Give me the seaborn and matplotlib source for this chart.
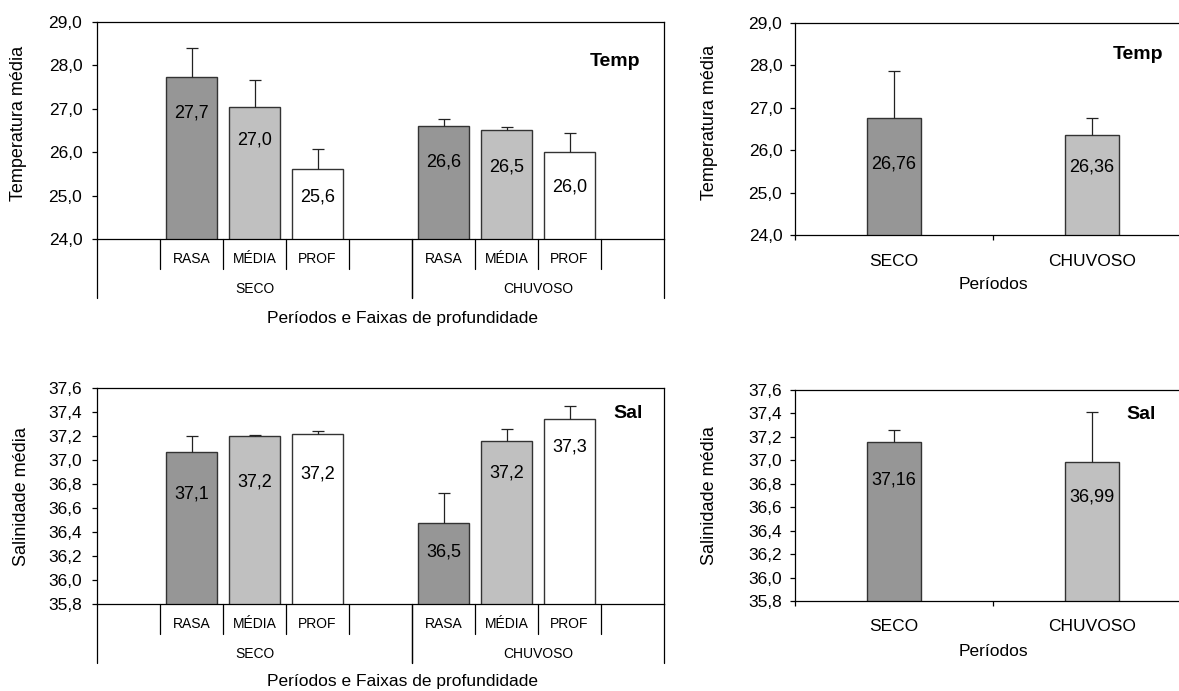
import numpy as np
import pandas as pd
import matplotlib
matplotlib.use("Agg")
import matplotlib.pyplot as plt
import matplotlib.transforms as mtransforms
from matplotlib.ticker import FixedLocator, FuncFormatter
import seaborn as sns

# ---------------- data ----------------
periods = ["SECO", "CHUVOSO"]
depths = ["RASA", "MÉDIA", "PROF"]

temp_depth_mean = [27.73, 27.03, 25.60, 26.60, 26.51, 26.00]
temp_depth_err = [0.67, 0.63, 0.48, 0.15, 0.07, 0.45]
sal_depth_mean = [37.07, 37.20, 37.22, 36.48, 37.16, 37.34]
sal_depth_err = [0.13, 0.01, 0.02, 0.25, 0.10, 0.11]

temp_period_mean = [26.76, 26.36]
temp_period_err = [1.10, 0.39]
sal_period_mean = [37.16, 36.99]
sal_period_err = [0.10, 0.42]

temp_ticks = [24.0, 25.0, 26.0, 27.0, 28.0, 29.0]
sal_ticks = [35.8, 36.0, 36.2, 36.4, 36.6, 36.8, 37.0, 37.2, 37.4, 37.6]

# ---------------- style ----------------
sns.set_style("ticks")
plt.rcParams.update({
    "font.family": ["Liberation Sans", "DejaVu Sans"],
    "axes.edgecolor": "black",
    "axes.linewidth": 0.9,
    "text.color": "black",
    "axes.labelcolor": "black",
    "xtick.color": "black",
    "ytick.color": "black",
})

DARK, LIGHT, WHITE = "#969696", "#c0c0c0", "#ffffff"
EDGE = "#333333"
depth_colors = {"RASA": DARK, "MÉDIA": LIGHT, "PROF": WHITE}
period_colors = {"SECO": DARK, "CHUVOSO": LIGHT}

W, H, DPI = 1179, 691, 100
PT = 72.0 / DPI  # points per pixel

fig = plt.figure(figsize=(W / DPI, H / DPI), dpi=DPI)


def add_axes_px(x0, y0, x1, y1):
    return fig.add_axes([x0 / W, 1 - y1 / H, (x1 - x0) / W, (y1 - y0) / H])


ax_tl = add_axes_px(97, 21.7, 664, 239)
ax_bl = add_axes_px(97, 388.3, 664, 604)
ax_tr = add_axes_px(795, 22.7, 1191, 235)
ax_br = add_axes_px(795, 390, 1191, 601)

# table for the depth panels, with empty slots padding each period group
df_depth = pd.DataFrame({
    "period": np.repeat(periods, len(depths)),
    "depth": depths * len(periods),
    "temp": temp_depth_mean,
    "temp_err": temp_depth_err,
    "sal": sal_depth_mean,
    "sal_err": sal_depth_err,
})
df_depth["slot"] = df_depth["period"] + "|" + df_depth["depth"]

group_slots = {
    "SECO": ["_a"] + depths + ["_b"],
    "CHUVOSO": depths + ["_c"],
}
slot_order = [f"{p}|{d}" for p in periods for d in group_slots[p]]

df_period = pd.DataFrame({
    "period": periods,
    "temp": temp_period_mean,
    "temp_err": temp_period_err,
    "sal": sal_period_mean,
    "sal_err": sal_period_err,
})


def comma(v, nd):
    return f"{v:.{nd}f}".replace(".", ",")


def style_y(ax, ticks, pad):
    ax.set_ylim(ticks[0], ticks[-1])
    ax.yaxis.set_major_locator(FixedLocator(ticks))
    ax.yaxis.set_major_formatter(FuncFormatter(lambda v, _: comma(v, 1)))
    ax.tick_params(axis="y", direction="out", length=3.6, width=0.9,
                   pad=pad, labelsize=12.5)
    for s in ax.spines.values():
        s.set_visible(True)
        s.set_color("black")
        s.set_linewidth(0.9)


def bars_and_marks(ax, errs, nd, drops):
    bars = sorted([p for p in ax.patches if p.get_height() > 0],
                  key=lambda p: p.get_x())
    xs = [p.get_x() + p.get_width() / 2 for p in bars]
    hs = [p.get_height() for p in bars]
    # upper-only error bars: hide the cap sitting on the bar top
    _, caps, _ = ax.errorbar(xs, hs, yerr=[np.zeros(len(errs)), errs],
                             fmt="none", ecolor="#222222", elinewidth=0.9,
                             capsize=4, capthick=0.9, zorder=4)
    if len(caps) == 2:
        caps[0].set_visible(False)
    for x, h, d in zip(xs, hs, drops):
        ax.annotate(comma(h, nd), xy=(x, h), xytext=(0, -d * PT),
                    textcoords="offset points", ha="center", va="center",
                    fontsize=13, zorder=5)


def depth_panel(ax, col, ticks, ylabel, tag, tag_xy, drops, ylab_x, ylab_y,
                xlab_y):
    sns.barplot(data=df_depth, x="slot", y=col, hue="depth", order=slot_order,
                hue_order=depths, palette=depth_colors, dodge=False,
                width=0.82, edgecolor=EDGE, linewidth=1.0, errorbar=None,
                saturation=1, legend=False, ax=ax)
    style_y(ax, ticks, 7)
    ax.set_xlim(-0.5, len(slot_order) - 0.5)

    present = set(df_depth["slot"])
    rows = df_depth.set_index("slot").loc[[s for s in slot_order if s in present]]
    bars_and_marks(ax, rows[col + "_err"].to_numpy(), 1, drops)

    # categorical positions from the axis itself
    pos = {t.get_text(): x for x, t in zip(ax.get_xticks(), ax.get_xticklabels())}
    ax.set_xticks([])
    ax.set_xlabel("")

    height_px = ax.get_position().height * H
    blend = mtransforms.blended_transform_factory(ax.transData, ax.transAxes)
    short, long_ = 30 / height_px, 59 / height_px

    for p in periods:
        keys = [f"{p}|{d}" for d in group_slots[p]]
        xs = [pos[k] for k in keys]
        # group edges (long) and internal slot edges (short)
        ax.plot([xs[0] - 0.5] * 2, [0, -long_], transform=blend,
                clip_on=False, color="black", lw=0.9)
        ax.plot([xs[-1] + 0.5] * 2, [0, -long_], transform=blend,
                clip_on=False, color="black", lw=0.9)
        for a, b in zip(xs[:-1], xs[1:]):
            ax.plot([(a + b) / 2] * 2, [0, -short], transform=blend,
                    clip_on=False, color="black", lw=0.9)
        for k, d in zip(keys, group_slots[p]):
            if d in depths:
                ax.annotate(d, xy=(pos[k], 0), xycoords=blend,
                            xytext=(0, -20 * PT), textcoords="offset points",
                            ha="center", va="center", fontsize=10)
        ax.annotate(p, xy=((xs[0] + xs[-1]) / 2, 0), xycoords=blend,
                    xytext=(0, -50 * PT), textcoords="offset points",
                    ha="center", va="center", fontsize=10)

    ax.set_xlabel("Períodos e Faixas de profundidade", fontsize=12.5)
    ax.xaxis.set_label_coords(0.538, xlab_y)
    ax.xaxis.label.set_va("center")
    ax.set_ylabel(ylabel, fontsize=13)
    ax.yaxis.set_label_coords(ylab_x, ylab_y)
    ax.yaxis.label.set_va("center")
    ax.text(*tag_xy, tag, transform=ax.transAxes, fontsize=14,
            fontweight="bold", ha="center", va="center")


def period_panel(ax, col, ticks, ylabel, tag, tag_xy, drops, ylab_x, ylab_y,
                 xlab_y, tick_pad):
    sns.barplot(data=df_period, x="period", y=col, hue="period",
                order=periods, hue_order=periods, palette=period_colors,
                width=0.27, edgecolor=EDGE, linewidth=1.0, errorbar=None,
                saturation=1, legend=False, ax=ax)
    style_y(ax, ticks, 5.5)
    ax.set_xlim(-0.5, len(periods) - 0.5)
    bars_and_marks(ax, df_period[col + "_err"].to_numpy(), 2, drops)

    ax.xaxis.set_minor_locator(FixedLocator([-0.5, 0.5, len(periods) - 0.5]))
    ax.tick_params(axis="x", which="major", length=0, pad=tick_pad,
                   labelsize=12.5)
    ax.tick_params(axis="x", which="minor", direction="out", length=3.6,
                   width=0.9)
    ax.set_xlabel("Períodos", fontsize=12.5)
    ax.xaxis.set_label_coords(0.5, xlab_y)
    ax.xaxis.label.set_va("center")
    ax.set_ylabel(ylabel, fontsize=13)
    ax.yaxis.set_label_coords(ylab_x, ylab_y)
    ax.yaxis.label.set_va("center")
    ax.text(*tag_xy, tag, transform=ax.transAxes, fontsize=14,
            fontweight="bold", ha="center", va="center")


depth_panel(ax_tl, "temp", temp_ticks, "Temperatura média", "Temp",
            (0.9136, 0.8146), [36, 33, 28, 36, 37, 35], -0.1376, 0.53, -0.3636)
depth_panel(ax_bl, "sal", sal_ticks, "Salinidade média", "Sal",
            (0.9365, 0.881), [42, 46, 40, 29, 32, 28], -0.134, 0.5, -0.3616)
period_panel(ax_tr, "temp", temp_ticks, "Temperatura média", "Temp",
             (0.866, 0.848), [46, 32], -0.217, 0.53, -0.2355, 14)
period_panel(ax_br, "sal", sal_ticks, "Salinidade média", "Sal",
             (0.874, 0.886), [38, 35], -0.215, 0.5, -0.240, 13)

fig.savefig("out.png", dpi=DPI, facecolor="white")
